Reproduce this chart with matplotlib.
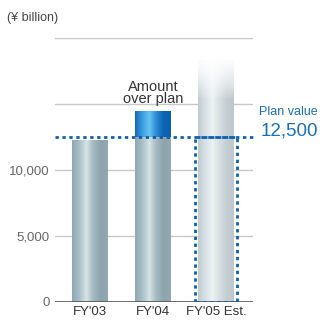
import numpy as np
import matplotlib.pyplot as plt
from matplotlib.colors import LinearSegmentedColormap

plt.rcParams['font.family'] = ['Liberation Sans', 'DejaVu Sans']

categories = ["FY'03", "FY'04", "FY'05 Est."]
actual = [12200, 12500, 18300]
over_plan = [0, 1900, 0]
plan_value = 12500
yticks = [0, 5000, 10000, 15000, 20000]
ytick_labels = ["0", "5,000", "10,000", "", ""]

grey = LinearSegmentedColormap.from_list("g", ["#8ea7b0", "#a9bfc6", "#d6e3e6", "#a3b9c0", "#8ea4ad", "#93a8b0"])
blue = LinearSegmentedColormap.from_list("b", ["#1668b8", "#3b9ee0", "#63c4f2", "#2c8ad2", "#0e63b4", "#0c62b2"])
light = LinearSegmentedColormap.from_list("l", ["#bfcbd1", "#d8e1e5", "#edf2f3", "#d7dfe2", "#c5ced2", "#bec8cd"])

width = 0.57


def grad_bar(ax, x, y0, y1, cmap, fade=0.0):
    n = 128
    h = np.linspace(0, 1, n)
    rgba = np.tile(cmap(h)[None, :, :], (n, 1, 1))
    if fade > 0:
        v = np.linspace(0, 1, n)[:, None]
        a = np.clip((1 - v) / fade, 0, 1)
        rgba[:, :, 3] = 0.15 + 0.85 * a
        # lighten toward the top
        w = (1 - a)[:, :, None] * 0.6
        rgba[:, :, :3] = rgba[:, :, :3] * (1 - w) + w
    ax.imshow(rgba, extent=(x - width / 2, x + width / 2, y0, y1),
              origin='lower', aspect='auto', interpolation='bilinear', zorder=2)


fig = plt.figure(figsize=(3.24, 3.2), dpi=100)
ax = fig.add_axes([0.17, 0.05625, 0.611, 0.825])

for i, (a, o) in enumerate(zip(actual, over_plan)):
    if i == 2:
        grad_bar(ax, i, 0, a, light, fade=0.16)
    else:
        grad_bar(ax, i, 0, a, grey)
        if o > 0:
            grad_bar(ax, i, a, a + o, blue)

ax.set_xlim(-0.556, 2.587)
ax.set_ylim(0, 20000)

for t in yticks[1:]:
    ax.axhline(t, color="#c8c8c8", lw=1, zorder=1)
ax.axhline(0, color="#555555", lw=1.2, zorder=3)

# plan line and estimate box
ax.plot([-0.556, 2.587], [plan_value, plan_value], color="#0f5fae", lw=2,
        ls=(0, (1.2, 1.3)), zorder=4, clip_on=False)
bx = [2 - 0.335, 2 - 0.335, 2 + 0.335, 2 + 0.335]
by = [0, plan_value, plan_value, 0]
ax.plot(bx + [bx[0]], by + [0], color="#0f5fae", lw=2, ls=(0, (1.2, 1.3)), zorder=4)

for s in ax.spines.values():
    s.set_visible(False)
ax.set_yticks(yticks)
ax.set_yticklabels(ytick_labels)
ax.tick_params(axis='y', length=0, pad=4, labelsize=9.5, labelcolor="#666666")
ax.set_xticks(range(len(categories)))
ax.set_xticklabels(categories)
ax.tick_params(axis='x', length=0, pad=3, labelsize=9.5, labelcolor="#333333")

fig.text(0.022, 0.945, "(¥ billion)", fontsize=9, color="#444444", va='center')
ax.text(1, actual[1] + over_plan[1] + 450, "Amount\nover plan", ha='center', va='bottom',
        fontsize=10.5, color="#333333", linespacing=0.85)
fig.text(0.8, 0.65, "Plan value", ha='left', va='center', fontsize=9, color="#1a6fba")
fig.text(0.803, 0.592, "12,500", ha='left', va='center', fontsize=13.5, color="#1a6fba")

fig.savefig("out.png", dpi=100)
